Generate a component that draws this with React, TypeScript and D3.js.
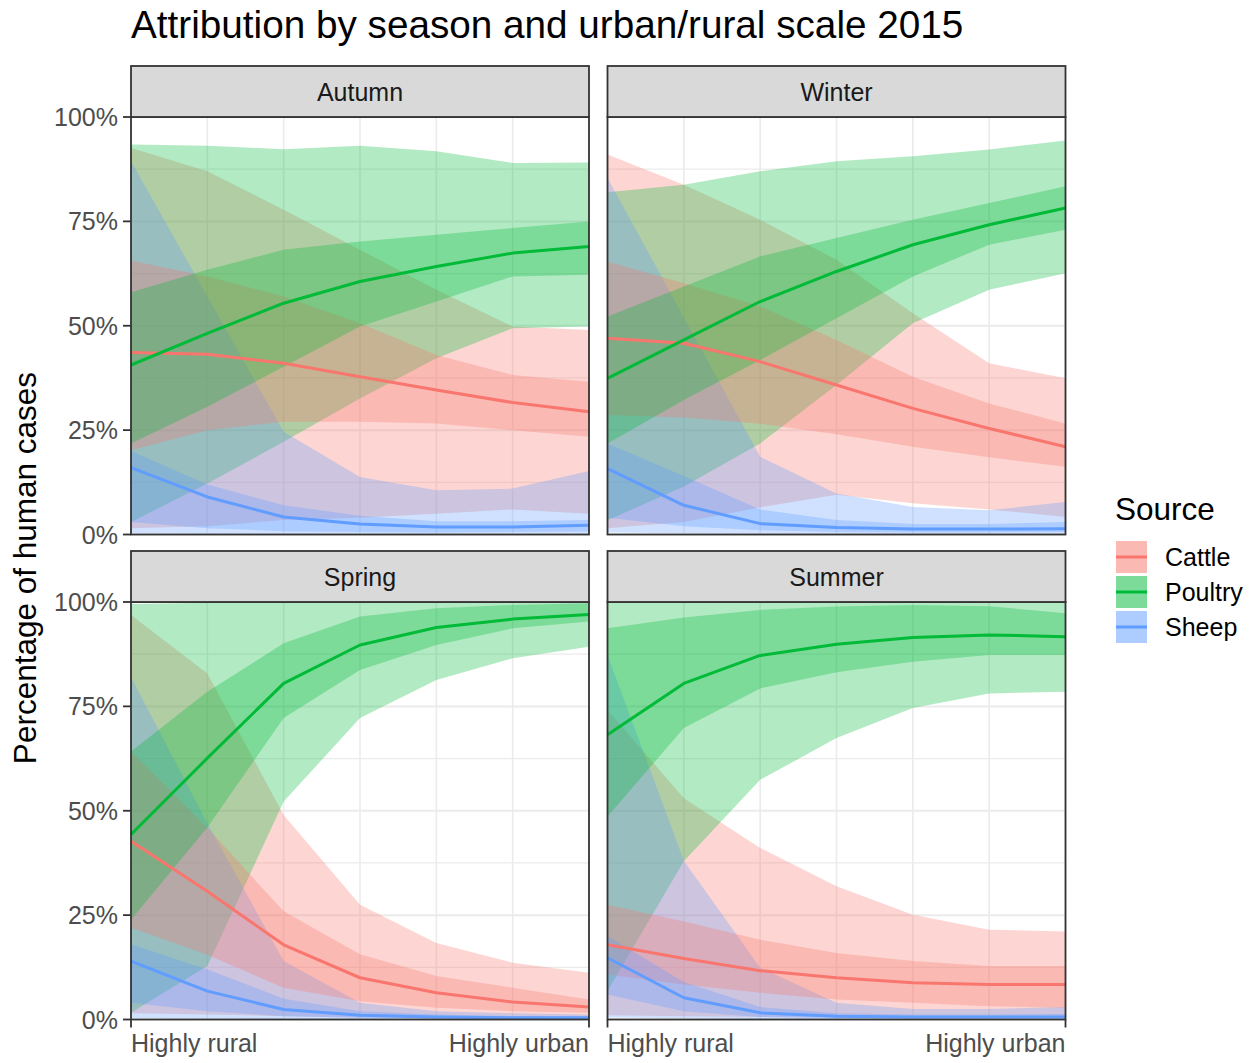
import React from 'react';
import * as d3 from 'd3';

const seasons = ['Autumn', 'Winter', 'Spring', 'Summer'];
const sources = ['Cattle', 'Poultry', 'Sheep'];
const sourceColors = ['#F8766D', '#00BA38', '#619CFF'];
const xLevels = [1, 2, 3, 4, 5, 6, 7];
const xTickValues = [1, 7];
const xTickLabels = ['Highly rural', 'Highly urban'];
const yMajor = [0, 25, 50, 75, 100];
const yTickLabels = ['0%', '25%', '50%', '75%', '100%'];
const yMinor = [12.5, 37.5, 62.5, 87.5];

// rows: lower 95%, lower 50%, median, upper 50%, upper 95% (percent), at xLevels
const autumnCattle = [
  [1.5, 2, 3.5, 4, 5, 6, 5],
  [20.2, 25, 27, 27, 26.6, 25, 23.4],
  [43.6, 43.2, 41, 37.8, 34.6, 31.6, 29.4],
  [65.6, 61.8, 57, 50.6, 43, 38.2, 36.6],
  [92.6, 87, 77.8, 68.2, 58.6, 49.8, 49],
];
const autumnPoultry = [
  [3, 12.2, 22.2, 32.6, 42.2, 49.4, 49.8],
  [21.8, 30.6, 40.2, 49.8, 55.8, 61.8, 62.2],
  [40.6, 48.2, 55.4, 60.6, 64.2, 67.4, 69],
  [58, 63.4, 68.2, 70.2, 71.8, 73.4, 75],
  [93.4, 93.1, 92.3, 93.1, 91.8, 89, 89.1],
];
const autumnSheep = [
  [0.3, 0.2, 0.2, 0.2, 0.2, 0.2, 0.2],
  [3, 1.5, 0.8, 0.6, 0.5, 0.6, 0.7],
  [16, 9, 4.2, 2.5, 1.8, 1.8, 2.2],
  [20, 12, 7, 4.5, 3.2, 3.2, 3.5],
  [89.4, 57, 24.6, 13.8, 10.6, 11, 15.2],
];
const winterCattle = [
  [1.5, 3, 6.5, 9.5, 7.5, 6, 4.2],
  [28.6, 28, 26.5, 24, 21, 18.5, 16.2],
  [47, 45.8, 41.4, 35.8, 30.2, 25.4, 21],
  [65.4, 60.2, 54.6, 46.6, 37.8, 31.4, 26.6],
  [91, 83.8, 75.4, 65.8, 53, 41, 37.4],
];
const winterPoultry = [
  [3.4, 11.5, 21.8, 35.8, 50.6, 58.6, 62.6],
  [21.8, 32.2, 41.8, 51.8, 61.8, 69.4, 73],
  [37.4, 46.6, 55.8, 63, 69.4, 74.2, 78.2],
  [52.2, 59.4, 66.6, 71, 75.4, 79.4, 83.4],
  [82, 83.8, 87, 89.4, 90.6, 92.2, 94.4],
];
const winterSheep = [
  [0.5, 0.3, 0.2, 0.2, 0.2, 0.2, 0.2],
  [4, 2, 1, 0.6, 0.5, 0.5, 0.6],
  [15.8, 7, 2.6, 1.7, 1.3, 1.3, 1.4],
  [21.8, 14, 6, 3.5, 2.5, 2.5, 3],
  [85.4, 52, 18.6, 9.8, 6.6, 5.8, 7.8],
];
const springCattle = [
  [1.5, 1.2, 0.8, 0.5, 0.3, 0.3, 0.3],
  [22, 15.5, 7.6, 4.4, 2.8, 2, 1.6],
  [42.7, 30.7, 17.9, 10, 6.4, 4.2, 3],
  [64.2, 45.9, 25.9, 15.6, 10.4, 7.6, 4.8],
  [96.9, 82.9, 49, 27.5, 18.3, 13.6, 11.2],
];
const springPoultry = [
  [1.6, 12.8, 52.2, 72.2, 81.3, 86.5, 89.3],
  [23.9, 46, 72.2, 83.7, 89.7, 93.7, 95.3],
  [44.3, 62.6, 80.5, 89.7, 93.9, 95.9, 97],
  [64.2, 78.5, 90.1, 96.5, 98.5, 99.3, 99.7],
  [99.5, 99.8, 99.9, 99.9, 99.9, 99.9, 99.9],
];
const springSheep = [
  [0.3, 0.2, 0.1, 0.1, 0.1, 0.1, 0.1],
  [4, 2, 0.8, 0.4, 0.3, 0.2, 0.2],
  [14, 6.8, 2.4, 1, 0.6, 0.4, 0.4],
  [18, 12, 5, 2, 1.2, 0.8, 0.7],
  [82, 47, 14, 4, 2, 1.5, 1.2],
];
const summerCattle = [
  [1, 0.8, 0.6, 0.5, 0.5, 0.5, 0.5],
  [10.8, 8.4, 6.4, 4.8, 4, 3.2, 2.8],
  [17.9, 14.6, 11.7, 10, 8.8, 8.4, 8.4],
  [27.5, 23.5, 19.1, 15.9, 14, 12.8, 12.8],
  [74.2, 53, 41.1, 31.9, 25.1, 21.5, 21.1],
];
const summerPoultry = [
  [6.8, 37.9, 57.4, 67.4, 74.6, 78.1, 78.5],
  [48.6, 69.8, 79.3, 83.2, 85.7, 87.3, 87.3],
  [68.2, 80.5, 87.2, 89.9, 91.5, 92.1, 91.7],
  [93.7, 96.3, 98.1, 98.9, 99.3, 99, 97.3],
  [99.8, 99.9, 99.9, 99.9, 99.9, 99.9, 99.8],
];
const summerSheep = [
  [0.5, 0.3, 0.1, 0.1, 0.1, 0.1, 0.1],
  [6, 2, 0.6, 0.3, 0.3, 0.3, 0.3],
  [14.8, 5.2, 1.6, 0.8, 0.6, 0.6, 0.6],
  [20, 9, 3, 1.5, 1.2, 1.2, 1.3],
  [87.3, 38, 12.4, 4, 2.5, 2.5, 3],
];

const seasonData = [
  [autumnCattle, autumnPoultry, autumnSheep],
  [winterCattle, winterPoultry, winterSheep],
  [springCattle, springPoultry, springSheep],
  [summerCattle, summerPoultry, summerSheep],
];

const FONT = '"Liberation Sans", Arial, Helvetica, sans-serif';
const W = 1257;
const H = 1063;
const panelW = 458;
const panelH = 417.5;
const stripH = 51;
const colX = [131, 607.5];
const rowY = [117, 602];

function Panel({ idx }: { idx: number }) {
  const col = idx % 2;
  const row = Math.floor(idx / 2);
  const x0 = colX[col];
  const y0 = rowY[row];
  const x = d3.scaleLinear().domain([1, 7]).range([x0, x0 + panelW]);
  const y = d3.scaleLinear().domain([0, 100]).range([y0 + panelH, y0]);
  const data = seasonData[idx];
  const area = (lo: number[], hi: number[]) =>
    d3
      .area<number>()
      .x((d) => x(d))
      .y0((_, i) => y(lo[i]))
      .y1((_, i) => y(hi[i]))(xLevels) || '';
  const line = (m: number[]) =>
    d3
      .line<number>()
      .x((d) => x(d))
      .y((_, i) => y(m[i]))(xLevels) || '';
  return (
    <g>
      <rect x={x0} y={y0} width={panelW} height={panelH} fill="#FFFFFF" />
      {yMinor.map((v) => (
        <line key={'mi' + v} x1={x0} x2={x0 + panelW} y1={y(v)} y2={y(v)} stroke="#EBEBEB" strokeWidth={1.2} />
      ))}
      {yMajor.map((v) => (
        <line key={'ma' + v} x1={x0} x2={x0 + panelW} y1={y(v)} y2={y(v)} stroke="#EBEBEB" strokeWidth={2} />
      ))}
      {xLevels.map((v) => (
        <line key={'vx' + v} x1={x(v)} x2={x(v)} y1={y0} y2={y0 + panelH} stroke="#EBEBEB" strokeWidth={1.6} />
      ))}
      {data.map((s, si) => (
        <path key={'o' + si} d={area(s[0], s[4])} fill={sourceColors[si]} fillOpacity={0.3} />
      ))}
      {data.map((s, si) => (
        <path key={'i' + si} d={area(s[1], s[3])} fill={sourceColors[si]} fillOpacity={0.3} />
      ))}
      {data.map((s, si) => (
        <path key={'l' + si} d={line(s[2])} fill="none" stroke={sourceColors[si]} strokeWidth={3} strokeLinejoin="round" />
      ))}
      <rect x={x0} y={y0} width={panelW} height={panelH} fill="none" stroke="#333333" strokeWidth={1.8} />
      <rect x={x0} y={y0 - stripH} width={panelW} height={stripH} fill="#D9D9D9" stroke="#333333" strokeWidth={1.8} />
      <text x={x0 + panelW / 2} y={y0 - stripH / 2} dy="0.36em" textAnchor="middle" fontSize={25} fill="#1A1A1A" fontFamily={FONT}>
        {seasons[idx]}
      </text>
      {col === 0 &&
        yMajor.map((v, i) => (
          <g key={'yt' + v}>
            <line x1={x0 - 8} x2={x0} y1={y(v)} y2={y(v)} stroke="#333333" strokeWidth={1.8} />
            <text x={x0 - 13} y={y(v)} dy="0.36em" textAnchor="end" fontSize={25} fill="#4D4D4D" fontFamily={FONT}>
              {yTickLabels[i]}
            </text>
          </g>
        ))}
      {row === 1 &&
        xTickValues.map((v, i) => (
          <g key={'xt' + v}>
            <line x1={x(v)} x2={x(v)} y1={y0 + panelH} y2={y0 + panelH + 8} stroke="#333333" strokeWidth={1.8} />
            <text x={x(v)} y={y0 + panelH + 32} textAnchor={i === 0 ? 'start' : 'end'} fontSize={25} fill="#4D4D4D" fontFamily={FONT}>
              {xTickLabels[i]}
            </text>
          </g>
        ))}
    </g>
  );
}

function Legend() {
  const lx = 1116;
  const ly = 541;
  const step = 35;
  return (
    <g>
      <text x={1115} y={520} fontSize={31.5} fill="#000000" fontFamily={FONT}>
        Source
      </text>
      {sources.map((s, i) => (
        <g key={s}>
          <rect x={lx} y={ly + i * step} width={31} height={32} fill={sourceColors[i]} fillOpacity={0.3} />
          <rect x={lx} y={ly + i * step} width={31} height={32} fill={sourceColors[i]} fillOpacity={0.3} />
          <line x1={lx} x2={lx + 31} y1={ly + i * step + 16} y2={ly + i * step + 16} stroke={sourceColors[i]} strokeWidth={3} />
          <text x={1165} y={ly + i * step + 16} dy="0.36em" fontSize={25} fill="#000000" fontFamily={FONT}>
            {s}
          </text>
        </g>
      ))}
    </g>
  );
}

export default function App() {
  return (
    <svg
      width={W}
      height={H}
      style={{ position: 'absolute', left: 0, top: 0, background: '#FFFFFF' }}
      xmlns="http://www.w3.org/2000/svg"
    >
      <rect x={0} y={0} width={W} height={H} fill="#FFFFFF" />
      <text x={131} y={38} fontSize={38.7} fill="#000000" fontFamily={FONT}>
        Attribution by season and urban/rural scale 2015
      </text>
      {[0, 1, 2, 3].map((i) => (
        <Panel key={i} idx={i} />
      ))}
      <text
        transform={`translate(36, 568) rotate(-90)`}
        textAnchor="middle"
        fontSize={31.5}
        fill="#000000"
        fontFamily={FONT}
      >
        Percentage of human cases
      </text>
      <Legend />
    </svg>
  );
}
